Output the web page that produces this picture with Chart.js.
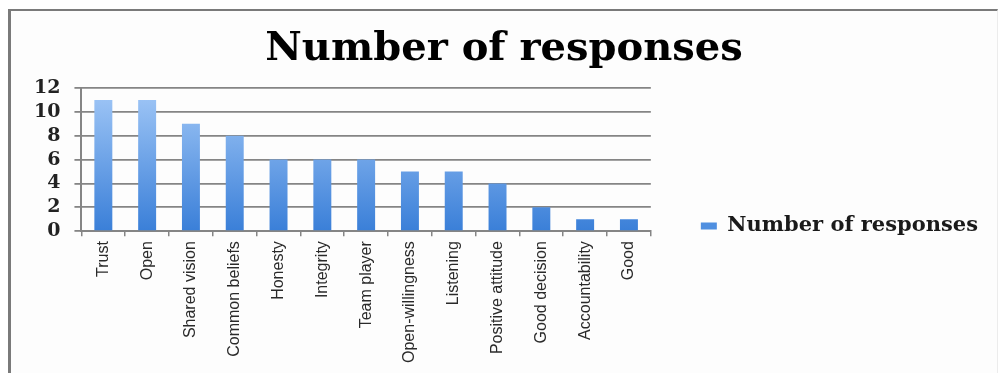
<!DOCTYPE html>
<html>

<head>
  <title>Number of responses</title>
  <script src="https://cdn.jsdelivr.net/npm/chart.js"></script>
  <style>
    body { margin: 0; background: #fff; overflow: hidden; }
    #frame {
      position: absolute; left: 8px; top: 9px; width: 986px; height: 400px;
      border-left: 3px solid #7a7a7a; border-top: 2px solid #7a7a7a;
      border-right: 1px solid #ececec;
      background: #fdfdfd;
    }
    #wrap { position: absolute; left: 0; top: 0; width: 1006px; height: 373px; }
  </style>
</head>

<body>
  <div id="frame"></div>
  <div id="wrap"><canvas id="responsesChart"></canvas></div>

  <script>
    const categories = ['Trust', 'Open', 'Shared vision', 'Common beliefs', 'Honesty', 'Integrity',
      'Team player', 'Open-willingness', 'Listening', 'Positive attitude', 'Good decision',
      'Accountability', 'Good'];
    const responses = [11, 11, 9, 8, 6, 6, 6, 5, 5, 4, 2, 1, 1];
    const seriesName = 'Number of responses';
    const yMax = 12;
    const yStep = 2;

    const gridGray = '#858585';
    const textDark = '#1a1a1a';

    // light-to-dark blue fill, top to bottom of the plot
    function barFill(context) {
      const area = context.chart.chartArea;
      if (!area) return '#5b9be8';
      const g = context.chart.ctx.createLinearGradient(0, area.top, 0, area.bottom);
      g.addColorStop(0, '#a2c8f7');
      g.addColorStop(1, '#3a7fd8');
      return g;
    }

    const ctx = document.getElementById('responsesChart').getContext('2d');
    const chart = new Chart(ctx, {
      type: 'bar',
      data: {
        labels: categories,
        datasets: [{
          label: seriesName,
          data: responses,
          backgroundColor: barFill,
          borderWidth: 0,
          categoryPercentage: 1,
          barPercentage: 0.41,
        }],
      },
      options: {
        responsive: true,
        maintainAspectRatio: false,
        animation: false,
        layout: {
          padding: { top: 26, left: 20, right: 18, bottom: 5 }
        },
        plugins: {
          title: {
            display: true,
            text: seriesName,
            color: '#000',
            font: { family: 'DejaVu Serif', size: 40, weight: 'bold' },
            padding: { top: 0, bottom: 14 },
          },
          legend: {
            position: 'right',
            maxWidth: 500,
            // blank title only pushes the single entry further down
            title: {
              display: true,
              text: ' ',
              font: { size: 10 },
              padding: { top: 0, bottom: 46 },
            },
            labels: {
              color: textDark,
              font: { family: 'DejaVu Serif', size: 21, weight: 'bold' },
              boxWidth: 16,
              boxHeight: 7,
              padding: 50,
              generateLabels: function (chart) {
                return [{
                  text: seriesName,
                  fillStyle: '#4f8fe0',
                  strokeStyle: '#4f8fe0',
                  fontColor: textDark,
                  lineWidth: 0,
                  datasetIndex: 0,
                }];
              }
            }
          },
          tooltip: { enabled: false },
        },
        scales: {
          x: {
            offset: true,
            grid: {
              display: true,
              offset: true,
              drawOnChartArea: false,
              drawTicks: true,
              tickLength: 5,
              color: gridGray,
              lineWidth: 1.5,
            },
            border: { display: true, color: gridGray, width: 2 },
            ticks: {
              color: '#2a2a2a',
              font: { family: 'Liberation Sans', size: 16 },
              minRotation: 90,
              maxRotation: 90,
              padding: 5,
              autoSkip: false,
            },
          },
          y: {
            min: 0,
            max: yMax,
            grid: {
              color: gridGray,
              lineWidth: 1.8,
              drawTicks: true,
              tickLength: 7,
            },
            border: { display: true, color: gridGray, width: 2 },
            ticks: {
              stepSize: yStep,
              autoSkip: false,
              color: '#222',
              font: { family: 'DejaVu Serif', size: 19, weight: 'bold' },
              padding: 14,
            },
          },
        },
      },
    });
  </script>
</body>

</html>
